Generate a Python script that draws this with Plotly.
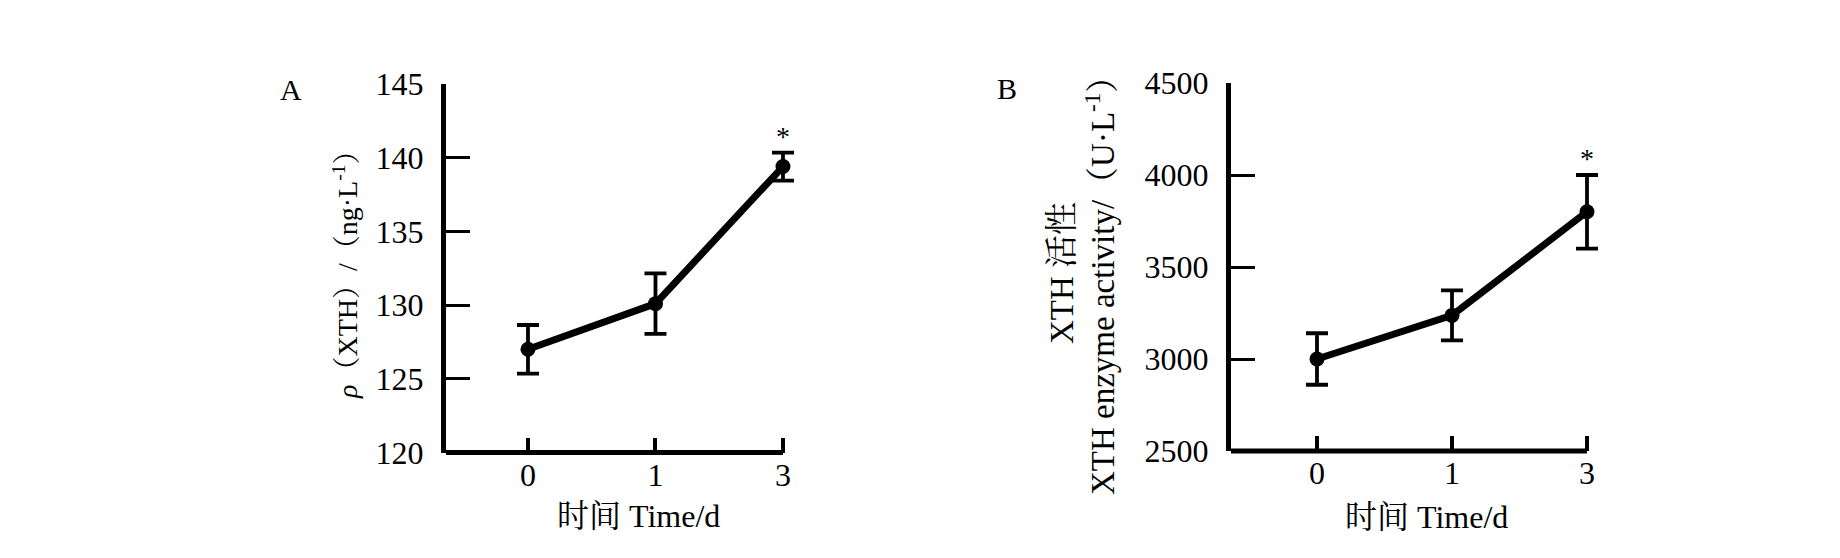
import plotly.graph_objects as go

# data
days = ["0", "1", "3"]
xth_conc = [127.0, 130.1, 139.4]          # ng/L
xth_conc_err = [1.65, 2.05, 0.95]
xth_activity = [3000, 3237, 3800]         # U/L
xth_activity_err = [140, 136, 200]

serif = "Liberation Serif, Times New Roman, Noto Serif CJK SC, Noto Sans CJK SC, serif"
W, H = 1840, 558
OFF = 8  # default body margin of the html page


def px_x(p):
    return (p - OFF) / W


def px_y(p):
    return 1 - (p - OFF) / H


# x ranges (category index units); extra room on the right so the last
# error-bar cap is not clipped, the drawn axis line stops at the last tick
xr_a = [-0.643, 2.16]
xr_b = [-0.637, 2.15]

fig = go.Figure()

for xa, ya, vals, errs in [("x", "y", xth_conc, xth_conc_err),
                           ("x2", "y2", xth_activity, xth_activity_err)]:
    fig.add_trace(go.Scatter(
        x=days, y=vals, xaxis=xa, yaxis=ya,
        mode="lines+markers",
        line=dict(color="black", width=7),
        marker=dict(color="black", size=15),
        error_y=dict(type="data", array=errs, color="black", thickness=3.8, width=11),
        cliponaxis=False, showlegend=False, hoverinfo="skip",
    ))
    # significance star above the last point
    fig.add_trace(go.Scatter(
        x=[days[-1]], y=[vals[-1] + errs[-1]], xaxis=xa, yaxis=ya,
        mode="text", text=["*"], textposition="top center",
        textfont=dict(family=serif, size=28, color="black"),
        cliponaxis=False, showlegend=False, hoverinfo="skip",
    ))

tick_font = dict(family=serif, size=32, color="black")
xcommon = dict(showline=False, ticks="inside", tickcolor="black", ticklen=15,
               tickwidth=4, showgrid=False, zeroline=False, automargin=False,
               type="category", tickfont=tick_font, ticklabelstandoff=0)
ycommon = dict(showline=True, linecolor="black", linewidth=5, ticks="inside",
               tickcolor="black", ticklen=24, tickwidth=3, showgrid=False,
               zeroline=False, automargin=False, tickfont=tick_font,
               ticklabelstandoff=11)

fig.update_layout(
    template="none",
    width=W, height=H,
    margin=dict(l=0, r=0, t=0, b=0),
    paper_bgcolor="white", plot_bgcolor="white",
    showlegend=False,
    xaxis=dict(xcommon, domain=[px_x(446), px_x(446 + 127.5 * (xr_a[1] - xr_a[0]))],
               anchor="y", range=xr_a),
    yaxis=dict(ycommon, domain=[px_y(452.5), px_y(84)], anchor="x",
               range=[120, 145], tickvals=[120, 125, 130, 135, 140, 145]),
    xaxis2=dict(xcommon, domain=[px_x(1231), px_x(1231 + 135 * (xr_b[1] - xr_b[0]))],
                anchor="y2", range=xr_b),
    yaxis2=dict(ycommon, domain=[px_y(451), px_y(83)], anchor="x2",
                range=[2500, 4500], tickvals=[2500, 3000, 3500, 4000, 4500]),
)

# bottom axis lines, from the left edge of the range to the last category
for xref, yref, xr in [("x", "y domain", xr_a), ("x2", "y2 domain", xr_b)]:
    fig.add_shape(type="line", xref=xref, yref=yref,
                  x0=xr[0], x1=len(days) - 1, y0=0, y1=0,
                  line=dict(color="black", width=5))

annotations = [
    dict(text="A", x=px_x(291), y=px_y(90), size=30),
    dict(text="B", x=px_x(1007), y=px_y(89), size=30),
    dict(text="时间 Time/d", x=px_x(638), y=px_y(516), size=32),
    dict(text="时间 Time/d", x=px_x(1426), y=px_y(517), size=32),
    dict(text="<i>ρ</i>（XTH）/（ng·L<sup>-1</sup>）", x=px_x(345), y=px_y(268),
         size=28, textangle=-90),
    dict(text="XTH 活性", x=px_x(1062), y=px_y(273), size=33, textangle=-90),
    dict(text="XTH enzyme activity/（U·L<sup>-1</sup>）", x=px_x(1100),
         y=px_y(278), size=33, textangle=-90),
]
for a in annotations:
    size = a.pop("size")
    fig.add_annotation(xref="paper", yref="paper", showarrow=False,
                       xanchor="center", yanchor="middle",
                       font=dict(family=serif, size=size, color="black"), **a)

fig.write_html("out.html")
